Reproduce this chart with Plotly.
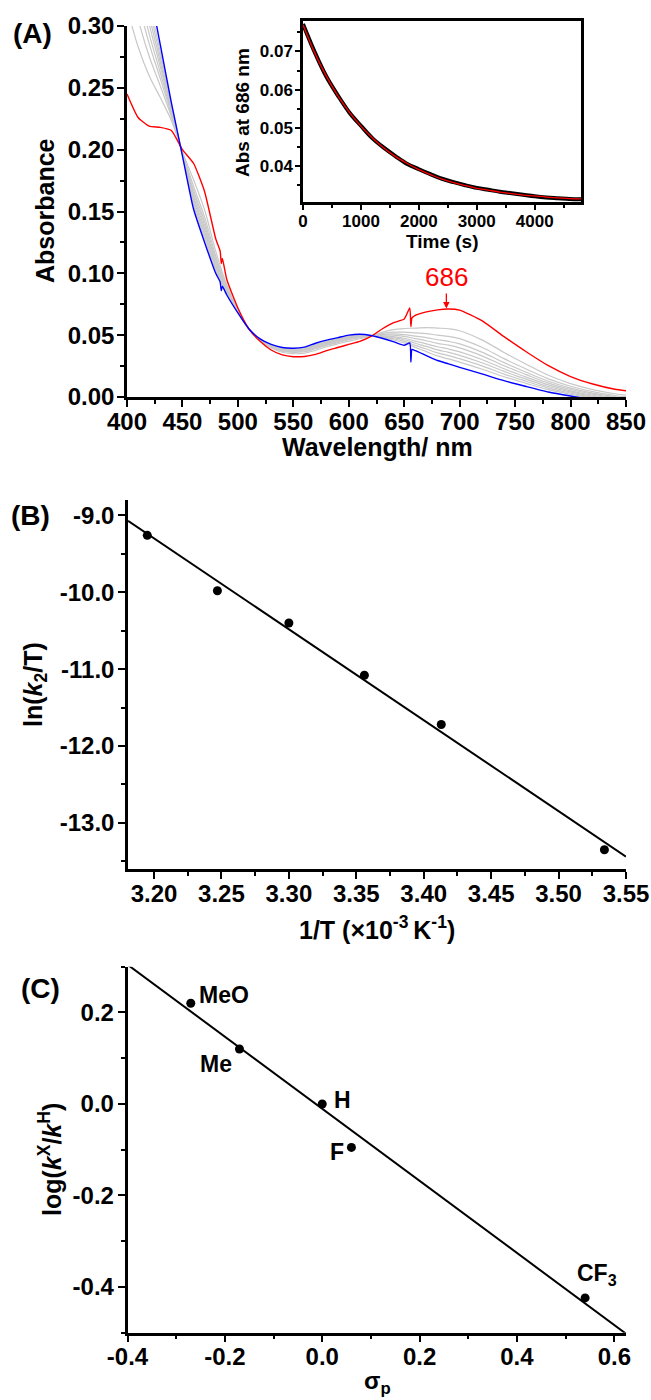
import plotly.graph_objects as go
import numpy as np

# ---------------- Panel A : spectra ----------------
wl = [400, 410, 420, 430, 440, 450, 460, 470, 480, 490, 500, 510, 520, 530, 540, 550, 560, 570,
      580, 590, 600, 610, 620, 630, 640, 650, 660, 670, 680, 690, 700, 720, 740, 760, 780, 800,
      820, 840, 850]

red_abs = [0.245, 0.226, 0.219, 0.218, 0.2155, 0.200, 0.189, 0.166, 0.128, 0.095, 0.072, 0.055,
           0.045, 0.038, 0.034, 0.0326, 0.0328, 0.0345, 0.0375, 0.040, 0.0425, 0.045, 0.049, 0.055,
           0.060, 0.063, 0.066, 0.0688, 0.0705, 0.0712, 0.0703, 0.0617, 0.0488, 0.0366, 0.0253,
           0.0165, 0.0105, 0.0063, 0.0051]
red_spike_wl = [484, 485, 486, 655, 656, 657]
red_spike_abs = [0.118, 0.108, 0.112, 0.072, 0.057, 0.064]

blue_abs = [0.44, 0.385, 0.332, 0.285, 0.238, 0.195, 0.152, 0.125, 0.100, 0.0825, 0.068, 0.055,
            0.047, 0.0425, 0.040, 0.0394, 0.0403, 0.0435, 0.046, 0.048, 0.050, 0.0507, 0.0497,
            0.0475, 0.0448, 0.0418, 0.0375, 0.0335, 0.0295, 0.0268, 0.024, 0.0187, 0.0132, 0.0085,
            0.004, 0.0008, -0.002, -0.004, -0.005]
blue_spike_wl = [484, 485, 486, 655, 656, 657]
blue_spike_abs = [0.093, 0.086, 0.0895, 0.0437, 0.0283, 0.0385]

gray1 = [0.3152, 0.2832, 0.2597, 0.2421, 0.2236, 0.1982, 0.1757, 0.1512, 0.1179, 0.0905, 0.0706, 0.055,
         0.0457, 0.0396, 0.0362, 0.0350, 0.0355, 0.0377, 0.0406, 0.0429, 0.0452, 0.0471, 0.0493, 0.0523,
         0.0545, 0.0554, 0.0557, 0.0561, 0.0557, 0.0552, 0.0536, 0.0462, 0.0360, 0.0265, 0.0176, 0.0108,
         0.0060, 0.0026, 0.0015]
gray2 = [0.3425, 0.3055, 0.2755, 0.2515, 0.2268, 0.1975, 0.1705, 0.1455, 0.114, 0.0888, 0.070, 0.055,
         0.046, 0.0403, 0.037, 0.036, 0.0366, 0.039, 0.0418, 0.044, 0.0463, 0.0479, 0.0494, 0.0513,
         0.0524, 0.0524, 0.0518, 0.0512, 0.05, 0.049, 0.0472, 0.0402, 0.031, 0.0226, 0.0147, 0.0087,
         0.0043, 0.0012, 0.0001]
gray3 = [0.3601, 0.3198, 0.2857, 0.2575, 0.2288, 0.1971, 0.1672, 0.1418, 0.1115, 0.0876, 0.0696, 0.055,
         0.0462, 0.0407, 0.0375, 0.0366, 0.0372, 0.0398, 0.0425, 0.0447, 0.0469, 0.0484, 0.0494, 0.0506,
         0.051, 0.0505, 0.0492, 0.048, 0.0463, 0.045, 0.043, 0.0363, 0.0278, 0.02, 0.0127, 0.0072,
         0.0031, 0.0002, -0.0009]
gray4 = [0.3737, 0.3309, 0.2936, 0.2622, 0.2304, 0.1967, 0.1646, 0.1389, 0.1095, 0.0868, 0.0694, 0.055,
         0.0463, 0.041, 0.038, 0.0371, 0.0378, 0.0404, 0.0431, 0.0453, 0.0475, 0.0488, 0.0495, 0.0501,
         0.05, 0.049, 0.0472, 0.0455, 0.0434, 0.0419, 0.0397, 0.0333, 0.0253, 0.0181, 0.0112, 0.0061,
         0.0023, -0.0005, -0.0016]
gray5 = [0.3873, 0.3421, 0.3015, 0.2669, 0.2319, 0.1964, 0.162, 0.1361, 0.1076, 0.0859, 0.0691, 0.055,
         0.0465, 0.0413, 0.0384, 0.0376, 0.0383, 0.0411, 0.0437, 0.0458, 0.048, 0.0492, 0.0495, 0.0495,
         0.0489, 0.0475, 0.0452, 0.043, 0.0406, 0.0388, 0.0365, 0.0303, 0.0228, 0.0161, 0.0098, 0.005,
         0.0014, -0.0012, -0.0023]
gray6 = [0.399, 0.3516, 0.3083, 0.2709, 0.2333, 0.1961, 0.1598, 0.1336, 0.1059, 0.0851, 0.0688, 0.055,
         0.0466, 0.0416, 0.0387, 0.038, 0.0387, 0.0416, 0.0442, 0.0463, 0.0484, 0.0495, 0.0496, 0.0491,
         0.048, 0.0463, 0.0435, 0.0409, 0.0381, 0.0361, 0.0337, 0.0277, 0.0207, 0.0144, 0.0085, 0.0041,
         0.0006, -0.0018, -0.0029]
gray7 = [0.4107, 0.3611, 0.315, 0.275, 0.2346, 0.1958, 0.1576, 0.1312, 0.1042, 0.0844, 0.0686, 0.055,
         0.0467, 0.0418, 0.0391, 0.0384, 0.0392, 0.0422, 0.0447, 0.0468, 0.0489, 0.0498, 0.0496, 0.0486,
         0.0471, 0.045, 0.0418, 0.0388, 0.0357, 0.0335, 0.0309, 0.0252, 0.0185, 0.0127, 0.0072, 0.0032,
         -0.0001, -0.0025, -0.0035]
gray8 = [0.4224, 0.3707, 0.3218, 0.279, 0.236, 0.1955, 0.1553, 0.1287, 0.1025, 0.0836, 0.0684, 0.055,
         0.0468, 0.0421, 0.0395, 0.0388, 0.0396, 0.0427, 0.0452, 0.0473, 0.0493, 0.0502, 0.0496, 0.0482,
         0.0462, 0.0437, 0.0401, 0.0367, 0.0332, 0.0308, 0.0282, 0.0226, 0.0164, 0.011, 0.0059, 0.0022,
         -0.0009, -0.0031, -0.0041]
grays = [gray1, gray2, gray3, gray4, gray5, gray6, gray7, gray8]

peak_wl = 688
peak_abs = 0.0715
peak_label = "686"

a_xticks = [400, 450, 500, 550, 600, 650, 700, 750, 800, 850]
a_yticks = [0.00, 0.05, 0.10, 0.15, 0.20, 0.25, 0.30]
a_yticklabels = ["0.00", "0.05", "0.10", "0.15", "0.20", "0.25", "0.30"]

# ---------------- Inset : kinetics at 686 nm ----------------
time_s = [0, 200, 400, 600, 800, 1000, 1200, 1400, 1600, 1800, 2000, 2200, 2400, 2600, 2800,
          3000, 3200, 3400, 3600, 3800, 4000, 4200, 4400, 4600, 4800]
abs686_data = [0.0772, 0.0699, 0.0635, 0.0585, 0.0540, 0.0505, 0.0472, 0.0447, 0.0425, 0.0405,
               0.0391, 0.0378, 0.0366, 0.0357, 0.0349, 0.0342, 0.0337, 0.0332, 0.0328, 0.0324,
               0.0320, 0.0317, 0.0315, 0.0313, 0.0312]
abs686_fit = [0.0770, 0.0697, 0.0636, 0.0584, 0.0541, 0.0504, 0.0473, 0.0446, 0.0424, 0.0406,
              0.0390, 0.0377, 0.0365, 0.0356, 0.0348, 0.0341, 0.0336, 0.0331, 0.0327, 0.0323,
              0.0321, 0.0318, 0.0316, 0.0314, 0.0313]
in_xticks = [0, 1000, 2000, 3000, 4000]
in_yticks = [0.04, 0.05, 0.06, 0.07]
in_yticklabels = ["0.04", "0.05", "0.06", "0.07"]

# ---------------- Panel B : Eyring ----------------
invT = [3.195, 3.247, 3.300, 3.356, 3.413, 3.534]
ln_k2_T = [-9.26, -9.98, -10.40, -11.08, -11.72, -13.35]
b_xticks = [3.20, 3.25, 3.30, 3.35, 3.40, 3.45, 3.50, 3.55]
b_xticklabels = ["3.20", "3.25", "3.30", "3.35", "3.40", "3.45", "3.50", "3.55"]
b_yticks = [-9.0, -10.0, -11.0, -12.0, -13.0]
b_yticklabels = ["-9.0", "-10.0", "-11.0", "-12.0", "-13.0"]

# ---------------- Panel C : Hammett ----------------
substituents = ["MeO", "Me", "H", "F", "CF<sub>3</sub>"]
sigma_p = [-0.27, -0.17, 0.00, 0.06, 0.54]
log_kX_kH = [0.22, 0.12, 0.00, -0.095, -0.424]
c_xticks = [-0.4, -0.2, 0.0, 0.2, 0.4, 0.6]
c_xticklabels = ["-0.4", "-0.2", "0.0", "0.2", "0.4", "0.6"]
c_yticks = [-0.4, -0.2, 0.0, 0.2]
c_yticklabels = ["-0.4", "-0.2", "0.0", "0.2"]

for g in grays:
    assert len(g) == len(wl)
assert len(red_abs) == len(wl) and len(blue_abs) == len(wl)

W, H = 651, 1400
FONT = "Liberation Sans, Arial, sans-serif"


def px(x):
    return x / W


def py(y):
    return 1 - y / H


fig = go.Figure()

# spectra
for g in grays:
    fig.add_trace(go.Scatter(x=wl, y=g, mode="lines", line=dict(color="#c8c8c8", width=1.2, shape="spline"),
                             xaxis="x", yaxis="y", hoverinfo="skip"))


def merge(base_x, base_y, sx, sy):
    pts = sorted(list(zip(base_x, base_y)) + list(zip(sx, sy)))
    return [p[0] for p in pts], [p[1] for p in pts]


rx, ry = merge(wl, red_abs, red_spike_wl, red_spike_abs)
bx, by = merge(wl, blue_abs, blue_spike_wl, blue_spike_abs)
fig.add_trace(go.Scatter(x=rx, y=ry, mode="lines",
                         line=dict(color="#ff0000", width=1.4, shape="spline", smoothing=0.5),
                         xaxis="x", yaxis="y"))
fig.add_trace(go.Scatter(x=bx, y=by, mode="lines",
                         line=dict(color="#0000ff", width=1.4, shape="spline", smoothing=0.5),
                         xaxis="x", yaxis="y"))

# inset
fig.add_trace(go.Scatter(x=time_s, y=abs686_data, mode="lines", line=dict(color="black", width=4, shape="spline"),
                         xaxis="x2", yaxis="y2"))
fig.add_trace(go.Scatter(x=time_s, y=abs686_fit, mode="lines", line=dict(color="#ff0000", width=1.3, shape="spline"),
                         xaxis="x2", yaxis="y2"))

# panel B
b_range = [3.1807, 3.55]
pb = np.polyfit(invT, ln_k2_T, 1)
fig.add_trace(go.Scatter(x=b_range, y=list(np.polyval(pb, b_range)), mode="lines",
                         line=dict(color="black", width=2), xaxis="x3", yaxis="y3"))
fig.add_trace(go.Scatter(x=invT, y=ln_k2_T, mode="markers", marker=dict(color="black", size=9),
                         xaxis="x3", yaxis="y3"))

# panel C
c_range = [-0.4, 0.624]
pc = np.polyfit(sigma_p, log_kX_kH, 1)
fig.add_trace(go.Scatter(x=c_range, y=list(np.polyval(pc, c_range)), mode="lines",
                         line=dict(color="black", width=2), xaxis="x4", yaxis="y4"))
fig.add_trace(go.Scatter(x=sigma_p, y=log_kX_kH, mode="markers", marker=dict(color="black", size=9),
                         xaxis="x4", yaxis="y4"))

tickfont = dict(family=FONT, size=24, color="black", weight="bold")
smallfont = dict(family=FONT, size=17, color="black", weight="bold")


def axis(domain, rng, anchor, tickvals, ticktext, minor_dtick, minor_tick0, font=tickfont, mirror=False,
         ticklen=7, minorlen=4, standoff=0):
    return dict(domain=domain, range=rng, anchor=anchor, tickmode="array", tickvals=tickvals,
                ticktext=ticktext, ticks="outside", ticklen=ticklen, tickwidth=2, tickcolor="black",
                minor=dict(ticks="outside", ticklen=minorlen, tickwidth=2, tickcolor="black",
                           tickmode="linear", tick0=minor_tick0, dtick=minor_dtick),
                showline=True, linewidth=2.5, linecolor="black", mirror=mirror, automargin=False,
                ticklabelstandoff=standoff,
                showgrid=False, zeroline=False, tickfont=font, fixedrange=True)


layout = dict(
    width=W, height=H, margin=dict(l=0, r=0, t=0, b=0, pad=0, autoexpand=False),
    paper_bgcolor="white", plot_bgcolor="white", showlegend=False,
    xaxis=axis([px(127), px(626)], [400, 850], "y", a_xticks, [str(v) for v in a_xticks], 25, 400,
               standoff=-6),
    yaxis=axis([py(397), py(26)], [0, 0.30], "x", a_yticks, a_yticklabels, 0.025, 0, standoff=-2),
    xaxis2=axis([px(303), px(581)], [0, 4800], "y2", in_xticks, [str(v) for v in in_xticks], 500, 0,
                font=smallfont, mirror=True, ticklen=5, minorlen=3, standoff=-3),
    yaxis2=axis([py(202), py(21)], [0.0305, 0.078], "x2", in_yticks, in_yticklabels, 0.005, 0.035,
                font=smallfont, mirror=True, ticklen=5, minorlen=3, standoff=-1),
    xaxis3=axis([px(128), px(626)], b_range, "y3", b_xticks, b_xticklabels, 0.025, 3.175, standoff=-6),
    yaxis3=axis([py(869), py(500)], [-13.6, -8.8], "x3", b_yticks, b_yticklabels, 0.5, -13.5, standoff=-1),
    xaxis4=axis([px(127.5), px(626)], c_range, "y4", c_xticks, c_xticklabels, 0.1, -0.5, standoff=-6),
    yaxis4=axis([py(1332.7), py(966.7)], [-0.5, 0.3], "x4", c_yticks, c_yticklabels, 0.1, -0.5, standoff=-1),
)
fig.update_layout(**layout)

titlefont = dict(family=FONT, size=25, color="black", weight="bold")
panelfont = dict(family=FONT, size=28, color="black", weight="bold")
ann = []


def paper_text(text, x, y, font, angle=0):
    ann.append(dict(text=text, x=px(x), y=py(y), xref="paper", yref="paper", showarrow=False,
                    xanchor="center", yanchor="middle", font=font, textangle=angle))


paper_text("(A)", 32, 34, panelfont)
paper_text("(B)", 30, 515, panelfont)
paper_text("(C)", 40, 988, panelfont)
paper_text("Absorbance", 45, 211, titlefont, -90)
paper_text("Wavelength/ nm", 377, 447, titlefont)
paper_text("Time (s)", 442, 242, dict(family=FONT, size=19, color="black", weight="bold"))
paper_text("Abs at 686 nm", 242, 113, dict(family=FONT, size=19, color="black", weight="bold"), -90)
paper_text("ln(<i>k</i><sub>2</sub>/T)", 35, 685, titlefont, -90)
paper_text("1/T (×10<sup>-3 </sup>K<sup>-1</sup>)", 377, 928, titlefont)
paper_text("log(<i>k</i><sup>X</sup>/<i>k</i><sup>H</sup>)", 50, 1160, titlefont, -90)
paper_text("σ<sub>p</sub>", 377, 1382, dict(family=FONT, size=24, color="black", weight="bold"))

# 686 arrow
ann.append(dict(text=peak_label, x=peak_wl, y=peak_abs, xref="x", yref="y", axref="x", ayref="y",
                ax=peak_wl, ay=0.097, showarrow=True, arrowhead=2, arrowsize=1, arrowwidth=1.3,
                arrowcolor="#ff0000", font=dict(family=FONT, size=26, color="#ff0000")))

# substituent labels (Hammett)
lab_font = dict(family=FONT, size=23, color="black", weight="bold")
lab_pos = [(-0.258, 0.238, "left"), (-0.219, 0.088, "center"), (0.02, 0.009, "left"),
           (0.031, -0.105, "center"), (0.565, -0.372, "center")]
for name, (lx, ly, anc) in zip(substituents, lab_pos):
    ann.append(dict(text=name, x=lx, y=ly, xref="x4", yref="y4", showarrow=False, xanchor=anc,
                    yanchor="middle", font=lab_font))

fig.update_layout(annotations=ann)
fig.write_html("out.html", config={"displayModeBar": False},
               post_script="document.body.style.margin='0';document.body.style.padding='0';"
                           "document.documentElement.style.overflow='hidden';")
